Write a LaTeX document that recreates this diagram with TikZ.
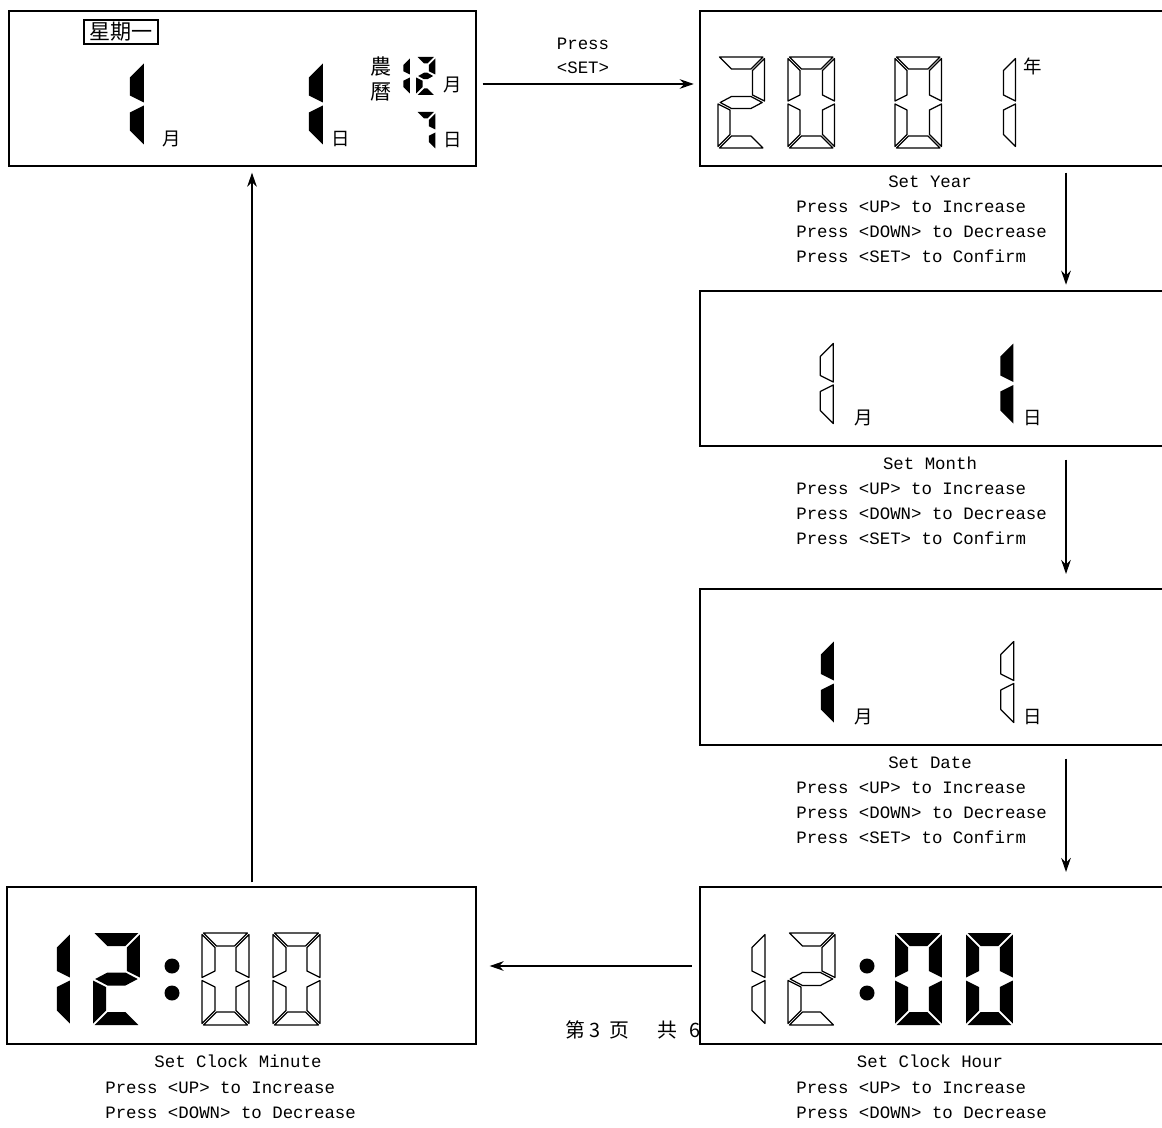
\documentclass[tikz,border=0pt]{standalone}
\usepackage{fontspec}
\setmonofont{Liberation Mono}
\newfontfamily\cjk{Noto Sans CJK SC}
\usetikzlibrary{arrows.meta, positioning}

% segment outlines of one digit, origin at its top left corner
\newcommand{\lcdsega}{(1.5,0) -- (\sgW-1.5,0) -- (\sgW-1.5-\sgT,\sgT) -- (1.5+\sgT,\sgT) -- cycle}
\newcommand{\lcdsegb}{(\sgW,1.5) -- (\sgW,\sgM-1.5) -- (\sgW-\sgT,\sgM-1.5-\sgT/2) -- (\sgW-\sgT,1.5+\sgT) -- cycle}
\newcommand{\lcdsegc}{(\sgW,\sgM+1.5) -- (\sgW,\sgH-1.5) -- (\sgW-\sgT,\sgH-1.5-\sgT) -- (\sgW-\sgT,\sgM+1.5+\sgT/2) -- cycle}
\newcommand{\lcdsegd}{(1.5,\sgH) -- (\sgW-1.5,\sgH) -- (\sgW-1.5-\sgT,\sgH-\sgT) -- (1.5+\sgT,\sgH-\sgT) -- cycle}
\newcommand{\lcdsege}{(0,\sgM+1.5) -- (0,\sgH-1.5) -- (\sgT,\sgH-1.5-\sgT) -- (\sgT,\sgM+1.5+\sgT/2) -- cycle}
\newcommand{\lcdsegf}{(0,1.5) -- (0,\sgM-1.5) -- (\sgT,\sgM-1.5-\sgT/2) -- (\sgT,1.5+\sgT) -- cycle}
\newcommand{\lcdsegg}{(2.2,\sgM) -- (\sgT+1.5,\sgM-\sgT/2) -- (\sgW-\sgT-1.5,\sgM-\sgT/2) -- (\sgW-2.2,\sgM)
  -- (\sgW-\sgT-1.5,\sgM+\sgT/2) -- (\sgT+1.5,\sgM+\sgT/2) -- cycle}

% #1,#2 top left corner, #3 height, #4 stroke, #5 segments, #6 style
\newcommand{\lcddigit}[6]{%
  \begin{scope}[shift={(#1,#2)}]
    \pgfmathsetmacro{\sgH}{#3}
    \pgfmathsetmacro{\sgW}{#3*0.51}
    \pgfmathsetmacro{\sgM}{#3/2}
    \pgfmathsetmacro{\sgT}{#4}
    \foreach \s in {#5}{\path[#6] \csname lcdseg\s\endcsname;}
  \end{scope}}

\tikzset{
  lcdbox/.style={draw, fill=white, line width=1.4pt, inner sep=0pt, anchor=north west},
  lcdon/.style={fill=black},
  lcdoff/.style={draw=black, fill=white, line width=0.7pt, line join=round},
  unit/.style={font=\cjk\fontsize{10.5}{12}\selectfont, inner sep=0pt},
  steptitle/.style={font=\ttfamily\fontsize{9.9}{12}\selectfont, inner sep=0pt, anchor=base},
  steptext/.style={font=\ttfamily\fontsize{9.9}{12}\selectfont, inner sep=0pt, anchor=base west},
  flow/.style={-{Stealth[length=8pt, width=5.5pt]}, line width=0.7pt},
}

\begin{document}
\begin{tikzpicture}[x=0.02cm, y=-0.02cm]
  \useasboundingbox (0,0) rectangle (1162,1128);
  \clip (0,0) rectangle (1162,1128);

  % page footer, half hidden behind the hour display
  \node[anchor=west, inner sep=0pt, font=\cjk\fontsize{11.3}{12}\selectfont]
    (footer) at (565,1030) {第\hspace{2.5pt}3\hspace{5pt}页\hspace{16pt}共\hspace{7pt}6};

  % the six displays
  \node[lcdbox, minimum width=9.34cm, minimum height=3.1cm] (today) at (8,10) {};
  \node[lcdbox, minimum width=9.6cm, minimum height=3.1cm] (year) at (699,10) {};
  \node[lcdbox, minimum width=9.6cm, minimum height=3.1cm] (month) at (699,290) {};
  \node[lcdbox, minimum width=9.6cm, minimum height=3.12cm] (date) at (699,588) {};
  \node[lcdbox, minimum width=9.6cm, minimum height=3.14cm] (hour) at (699,886) {};
  \node[lcdbox, minimum width=9.38cm, minimum height=3.14cm] (minute) at (6,886) {};

  % normal display
  \node[draw, line width=0.6pt, inner sep=0pt, minimum width=1.48cm, minimum height=0.48cm,
        font=\cjk\fontsize{12}{12}\selectfont] (weekday) at (121,32) {星期一};
  \lcddigit{101}{62}{84}{14}{b,c}{lcdon}
  \lcddigit{280}{62}{84}{14}{b,c}{lcdon}
  \node[unit] (tmonth) at (172,139) {月};
  \node[unit] (tday) at (341,139) {日};
  \node[unit, font=\cjk\fontsize{12}{12}\selectfont] (lunar1) at (381,67) {農};
  \node[unit, font=\cjk\fontsize{12}{12}\selectfont] (lunar2) at (381,92) {曆};
  \lcddigit{390.5}{57}{38}{6.5}{b,c}{lcdon}
  \lcddigit{416}{57}{38}{6.5}{a,b,g,e,d}{lcdon}
  \lcddigit{416}{112}{38}{6.5}{a,b,c}{lcdon}
  \node[unit] (lmonth) at (453,85) {月};
  \node[unit] (lday) at (453,140) {日};

  % year
  \lcddigit{718}{57}{91}{12}{a,b,g,e,d}{lcdoff}
  \lcddigit{788}{57}{91}{12}{a,b,c,d,e,f}{lcdoff}
  \lcddigit{895}{57}{91}{12}{a,b,c,d,e,f}{lcdoff}
  \lcddigit{969}{57}{91}{12}{b,c}{lcdoff}
  \node[unit] (yunit) at (1033,66) {年};

  % month
  \lcddigit{791}{342}{83}{13}{b,c}{lcdoff}
  \lcddigit{971}{342}{83}{13}{b,c}{lcdon}
  \node[unit] (munit) at (864,418) {月};
  \node[unit] (mdunit) at (1033,418) {日};

  % date
  \lcddigit{791}{640}{84}{13}{b,c}{lcdon}
  \lcddigit{971}{640}{84}{13}{b,c}{lcdoff}
  \node[unit] (dmunit) at (864,717) {月};
  \node[unit] (dunit) at (1033,717) {日};

  % hour
  \lcddigit{718}{933}{92}{13}{b,c}{lcdoff}
  \lcddigit{788}{933}{92}{13}{a,b,g,e,d}{lcdoff}
  \fill (867,966) circle (7.5) (867,993) circle (7.5);
  \lcddigit{895}{933}{92}{13}{a,b,c,d,e,f}{lcdon}
  \lcddigit{966}{933}{92}{13}{a,b,c,d,e,f}{lcdon}

  % minute
  \lcddigit{23}{933}{92}{13}{b,c}{lcdon}
  \lcddigit{93}{933}{92}{13}{a,b,g,e,d}{lcdon}
  \fill (172,966) circle (7.5) (172,993) circle (7.5);
  \lcddigit{202}{933}{92}{13}{a,b,c,d,e,f}{lcdoff}
  \lcddigit{273}{933}{92}{13}{a,b,c,d,e,f}{lcdoff}

  % captions
  \node[steptitle] (yeart) at (930,188) {Set Year};
  \node[steptext] (year1) at (796,213) {Press <UP> to Increase};
  \node[steptext] (year2) at (796,238) {Press <DOWN> to Decrease};
  \node[steptext] (year3) at (796,263) {Press <SET> to Confirm};

  \node[steptitle] (montht) at (930,469) {Set Month};
  \node[steptext] (month1) at (796,494) {Press <UP> to Increase};
  \node[steptext] (month2) at (796,519) {Press <DOWN> to Decrease};
  \node[steptext] (month3) at (796,544) {Press <SET> to Confirm};

  \node[steptitle] (datet) at (930,768) {Set Date};
  \node[steptext] (date1) at (796,793) {Press <UP> to Increase};
  \node[steptext] (date2) at (796,818) {Press <DOWN> to Decrease};
  \node[steptext] (date3) at (796,843) {Press <SET> to Confirm};

  \node[steptitle] (hourt) at (930,1067) {Set Clock Hour};
  \node[steptext] (hour1) at (796,1093) {Press <UP> to Increase};
  \node[steptext] (hour2) at (796,1118) {Press <DOWN> to Decrease};

  \node[steptitle] (minutet) at (238,1067) {Set Clock Minute};
  \node[steptext] (minute1) at (105,1093) {Press <UP> to Increase};
  \node[steptext] (minute2) at (105,1118) {Press <DOWN> to Decrease};

  \node[steptitle] (press) at (583,50) {Press};
  \node[steptitle] (setkey) at (583,74) {<SET>};

  % flow between the displays
  \coordinate (rcol) at (1066,0);
  \coordinate (lcol) at (252,0);
  \draw[flow, shorten <=3pt, shorten >=3pt] (today.east |- 0,84) -- (year.west |- 0,84);
  \draw[flow, shorten <=3pt, shorten >=3pt] (year.south -| rcol) -- (month.north -| rcol);
  \draw[flow, shorten <=7pt, shorten >=8pt] (month.south -| rcol) -- (date.north -| rcol);
  \draw[flow, shorten <=7pt, shorten >=8pt] (date.south -| rcol) -- (hour.north -| rcol);
  \draw[flow, shorten <=4pt, shorten >=7pt] (hour.west |- 0,966) -- (minute.east |- 0,966);
  \draw[flow, shorten <=2pt, shorten >=3pt] (minute.north -| lcol) -- (today.south -| lcol);
\end{tikzpicture}
\end{document}
